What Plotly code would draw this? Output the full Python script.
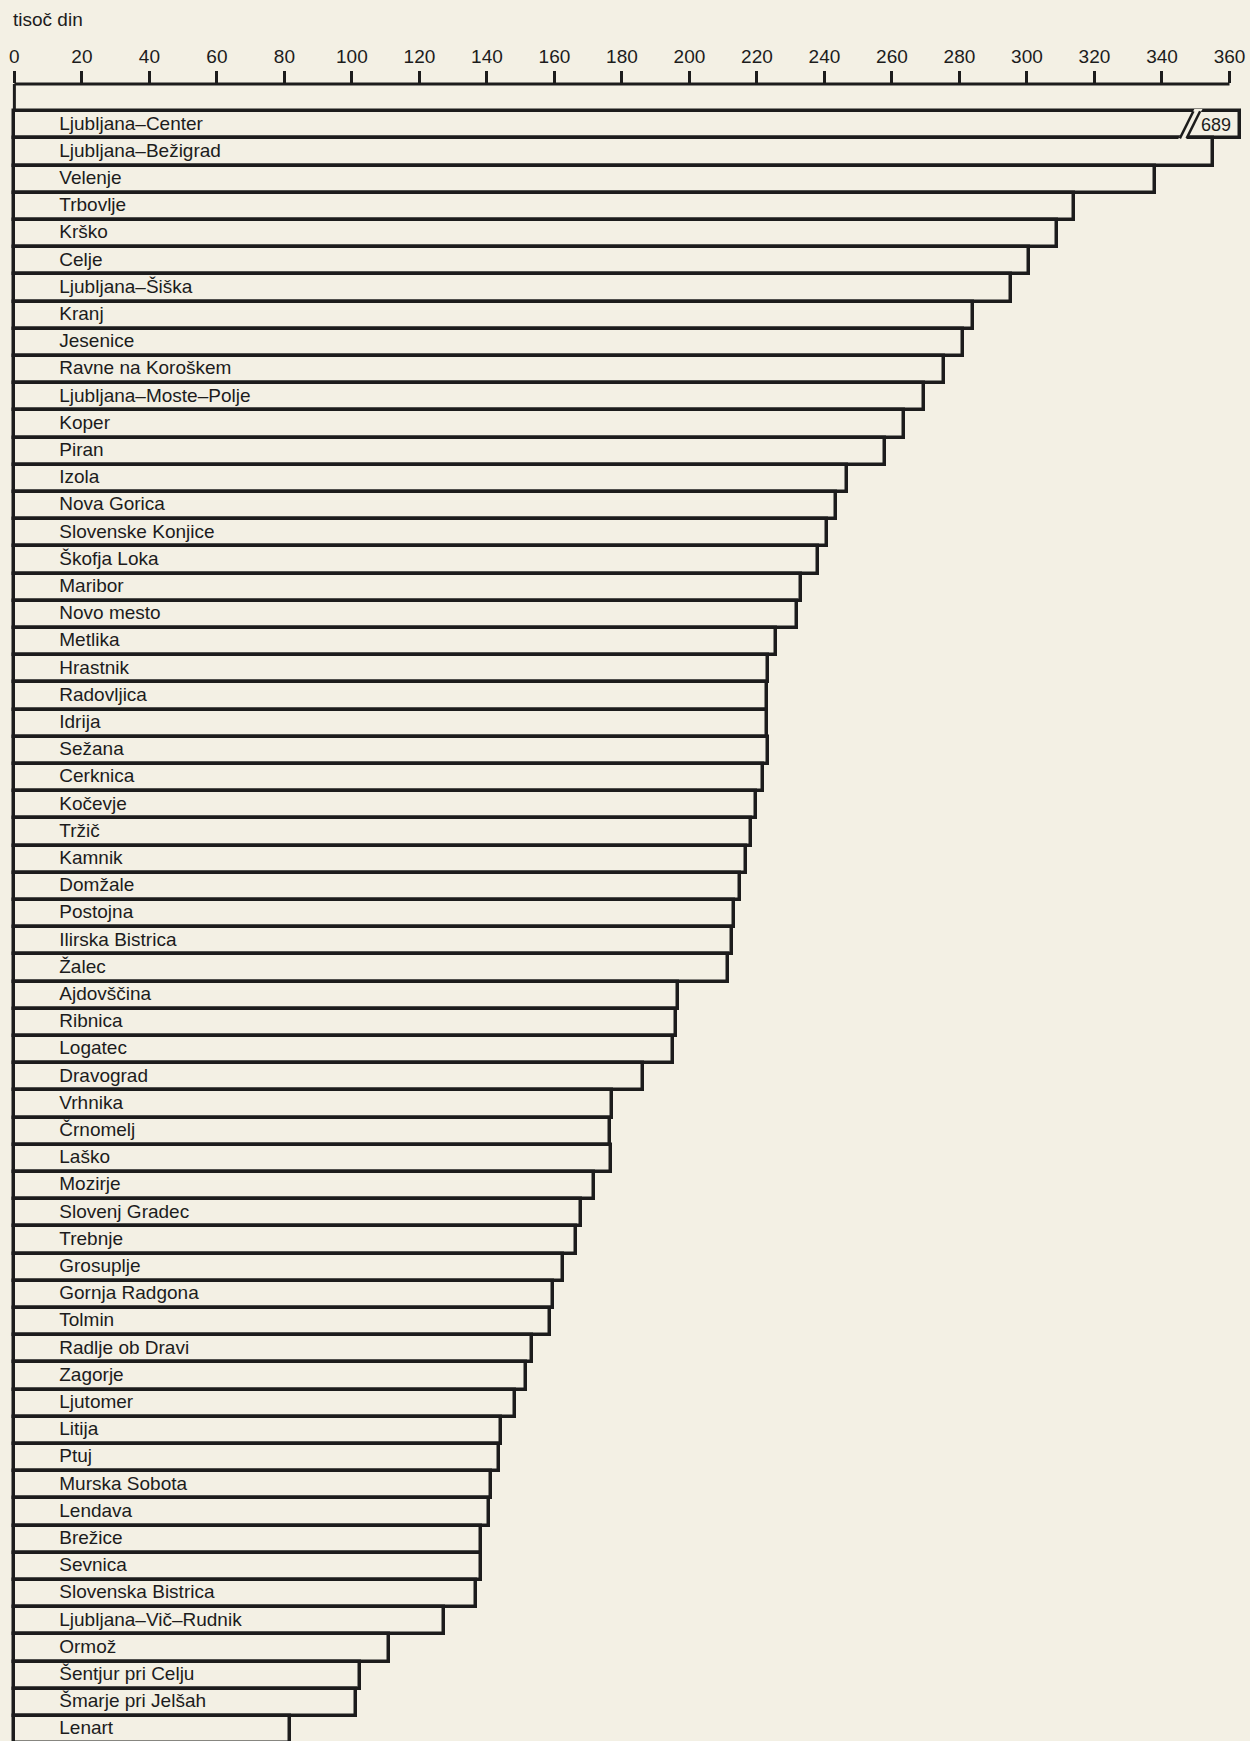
import plotly.graph_objects as go

# ---- data (thousand dinars) ----
categories = [
    "Ljubljana–Center", "Ljubljana–Bežigrad", "Velenje", "Trbovlje", "Krško",
    "Celje", "Ljubljana–Šiška", "Kranj", "Jesenice", "Ravne na Koroškem",
    "Ljubljana–Moste–Polje", "Koper", "Piran", "Izola", "Nova Gorica",
    "Slovenske Konjice", "Škofja Loka", "Maribor", "Novo mesto", "Metlika",
    "Hrastnik", "Radovljica", "Idrija", "Sežana", "Cerknica",
    "Kočevje", "Tržič", "Kamnik", "Domžale", "Postojna",
    "Ilirska Bistrica", "Žalec", "Ajdovščina", "Ribnica", "Logatec",
    "Dravograd", "Vrhnika", "Črnomelj", "Laško", "Mozirje",
    "Slovenj Gradec", "Trebnje", "Grosuplje", "Gornja Radgona", "Tolmin",
    "Radlje ob Dravi", "Zagorje", "Ljutomer", "Litija", "Ptuj",
    "Murska Sobota", "Lendava", "Brežice", "Sevnica", "Slovenska Bistrica",
    "Ljubljana–Vič–Rudnik", "Ormož", "Šentjur pri Celju", "Šmarje pri Jelšah", "Lenart",
]
values = [
    689, 355, 338, 314, 309,
    300.6, 295.3, 284, 281, 275.3,
    269.4, 263.5, 258, 246.7, 243.4,
    240.8, 238, 233.2, 232, 225.7,
    223.3, 223.1, 223, 223.3, 221.9,
    219.8, 218.1, 216.7, 215, 213.2,
    212.7, 211.3, 196.6, 196.1, 195,
    186.2, 177.2, 176.6, 176.8, 171.8,
    167.8, 166.4, 162.4, 159.6, 158.8,
    153.4, 151.7, 148.2, 144.2, 143.5,
    141.1, 140.7, 138.2, 138.3, 136.7,
    127.2, 110.9, 102.5, 101.3, 81.8,
]
tick_values = list(range(0, 361, 20))
axis_title = "tisoč din"

# ---- display settings ----
AXIS_MAX = 360
BREAK_CAP = 363.2          # truncated length of the broken bar
BG = "#f3f0e4"
INK = "#1c1c1c"
FONT = "Arial, Liberation Sans, Helvetica, sans-serif"

idx = list(range(len(categories)))
shown = [min(v, BREAK_CAP) for v in values]

fig = go.Figure()
fig.add_trace(go.Bar(
    orientation="h", x=shown, y=idx, width=1.0,
    marker=dict(color=BG, line=dict(color=INK, width=3.5)),
    hoverinfo="skip", showlegend=False,
))
fig.add_trace(go.Scatter(
    x=[13.3] * len(categories), y=idx, mode="text", text=categories,
    textposition="middle right",
    textfont=dict(family=FONT, size=19, color=INK),
    hoverinfo="skip", showlegend=False, cliponaxis=False,
))

shapes = []
# axis line along the top (0..360) and left stem down to first bar
shapes.append(dict(type="line", xref="x", yref="paper", x0=0, x1=AXIS_MAX, y0=1, y1=1,
                   line=dict(color=INK, width=3)))
shapes.append(dict(type="line", xref="x", yref="y", x0=0, x1=0, y0=-1.5, y1=-0.5,
                   line=dict(color=INK, width=3)))
# break marks on the truncated bar(s)
for i, v in enumerate(values):
    if v > BREAK_CAP:
        yb, yt = i + 0.5, i - 0.5
        shapes.append(dict(type="path", xref="x", yref="y",
                           path=f"M 344.6,{yb+0.08} L 349.6,{yt-0.08} L 352.0,{yt-0.08} L 347.0,{yb+0.08} Z",
                           fillcolor=BG, line=dict(width=0), layer="above"))
        for x_b, x_t in [(345.3, 349.3), (347.3, 351.3)]:
            shapes.append(dict(type="line", xref="x", yref="y", x0=x_b, x1=x_t, y0=yb, y1=yt,
                               line=dict(color=INK, width=2.5), layer="above"))
fig.update_layout(shapes=shapes)

annotations = [dict(xref="paper", yref="paper", x=0.0, y=1.039, xanchor="left", yanchor="middle",
                    text=axis_title, showarrow=False,
                    font=dict(family=FONT, size=19, color=INK))]
for i, v in enumerate(values):
    if v > BREAK_CAP:
        annotations.append(dict(xref="x", yref="y", x=356.0, y=i, text=str(v), showarrow=False,
                                font=dict(family=FONT, size=18, color=INK)))
fig.update_layout(annotations=annotations)

fig.update_layout(
    width=1250, height=1741,
    margin=dict(l=11, r=5, t=84, b=0),
    paper_bgcolor=BG, plot_bgcolor=BG,
    bargap=0,
    xaxis=dict(range=[-1.0, 364.6], side="top", tickvals=tick_values,
               ticks="outside", ticklen=12, tickwidth=2.5, tickcolor=INK,
               showgrid=False, zeroline=False, showline=False,
               tickfont=dict(family=FONT, size=19, color=INK)),
    yaxis=dict(range=[59.42, -1.5], showticklabels=False, showgrid=False,
               zeroline=False, showline=False, ticks=""),
)

fig.write_html("out.html", config={"displayModeBar": False},
               post_script="document.body.style.margin='0';document.body.style.background='" + BG + "';")
